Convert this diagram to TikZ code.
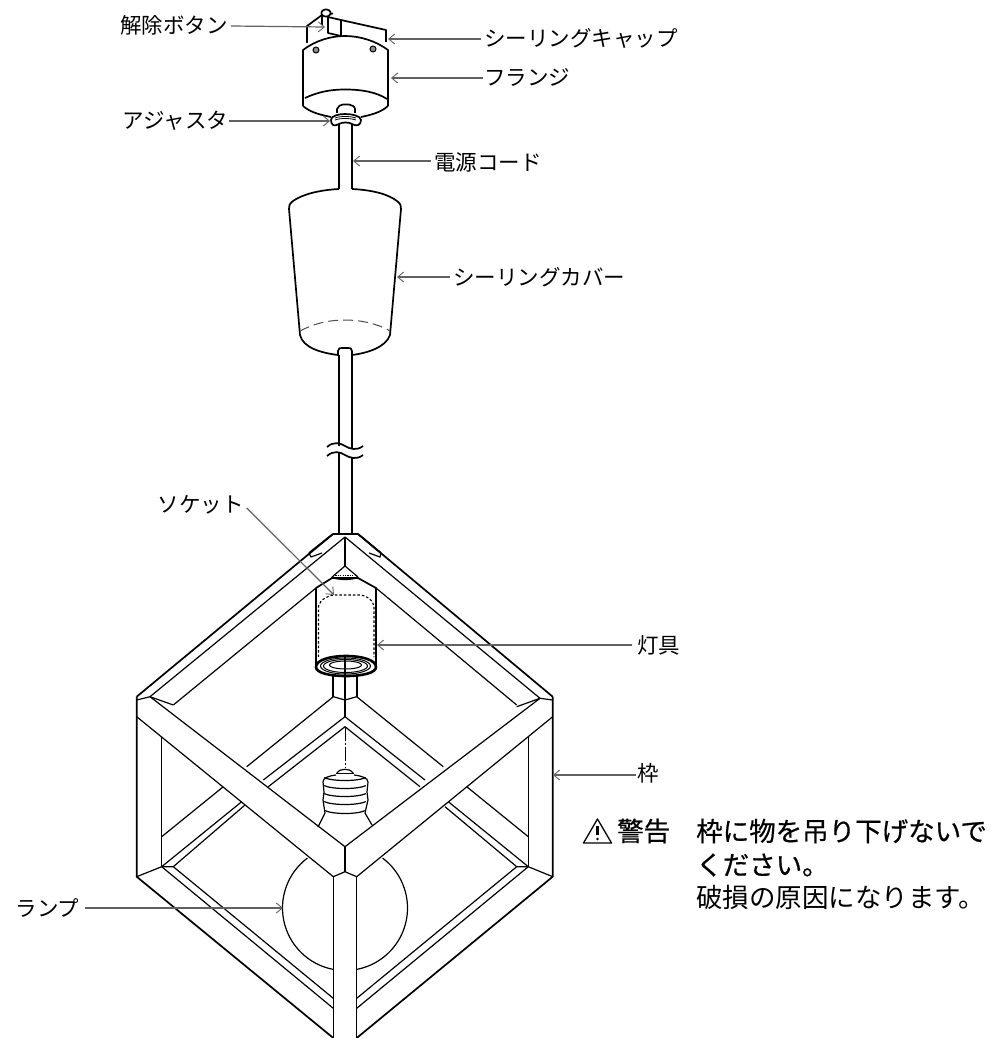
\documentclass[tikz,border=0pt]{standalone}
\usepackage{fontspec}
\usetikzlibrary{arrows.meta}
\setmainfont{Noto Sans CJK JP}
\newfontfamily\jpb[FakeBold=0.6]{Noto Sans CJK JP}
\tikzset{
 lbl/.style={inner sep=0pt,font=\fontsize{21.5}{21.5}\selectfont},
 lead/.style={draw=black!62,line width=1.2pt,-{Straight Barb[length=6pt,width=10pt,line width=0.9pt]}},
 ln/.style={line width=1.2pt,line join=round},
 hv/.style={line width=1.7pt,line join=round},
 warn/.style={inner sep=0pt,anchor=west,font=\fontsize{26.5}{26.5}\selectfont},
}
\newcommand{\earc}[6]{plot[smooth,domain=#5:#6,samples=32] ({#1+#3*cos(\x)},{#2+#4*sin(\x)})}
\begin{document}
\begin{tikzpicture}[x=1pt,y=-1pt]
\useasboundingbox (0,0) rectangle (995,1038);
\fill[white] (0,0) rectangle (995,1038);
% ---- ceiling cap
\begin{scope}[hv]
\draw (307,43) -- (307,26) -- (322,15);
\draw (328,17) -- (328,33) -- (341,36) -- (341,20) -- (328,17);
\draw (341,20) -- (386,30) -- (386,42);
\draw (322,15) -- (322,25) (324,15)--(333,13.5);
\draw[fill=white] \earc{326}{13}{4.5}{3.5}{0}{360};
% flange
\draw (303,106) -- (303,50) .. controls (315,41) and (330,36) .. (345,36) .. controls (360,36) and (376,41) .. (388,50) -- (388,106);
\draw (305,98) .. controls (318,92) and (330,89.5) .. (345,89.5) .. controls (362,89.5) and (376,92) .. (387,99);
\draw (303,106) .. controls (311,113) and (322,115) .. (331,117);
\draw (388,106) .. controls (380,113) and (370,115) .. (361,117);
\end{scope}
\draw[line width=1pt,fill=black!45] (316,50) circle[radius=3];
\draw[line width=1pt,fill=black!45] (373,49) circle[radius=3];
% adjuster
\draw[hv] (337,113) -- (337,109) .. controls (338,106) and (341,104.5) .. (343,104.5) -- (349,104.5) .. controls (352,104.5) and (355,107) .. (355,109) -- (355,113);
\draw[hv] (339,124) .. controls (334,127) and (331,125) .. (331,120) .. controls (331,116) and (338,114) .. (345,114) .. controls (352,114) and (361,116) .. (361,120) .. controls (361,125) and (357,127) .. (352,124);
\draw[hv] (339,124) .. controls (342,122) and (349,122) .. (352,124);
\draw[line width=0.8pt] (335,118) .. controls (340,116) and (350,116) .. (356,118);
\draw[line width=0.8pt] (335,120) .. controls (340,118) and (350,118) .. (356,120);
% cord top
\draw[hv] (339,124) -- (339,189) (352,124) -- (352,189);
% ---- cover
\draw[hv] (339,189) .. controls (320,190) and (303,194) .. (293,201) .. controls (289,204) and (289,206) .. (289,209) -- (300,335) .. controls (303,348) and (322,353) .. (338,355);
\draw[hv] (352,189) .. controls (372,190) and (388,194) .. (397,201) .. controls (401,204) and (401,206) .. (401,209) -- (390,335) .. controls (386,347) and (368,353) .. (352,355);
\draw[line width=1pt,dash pattern=on 10pt off 5pt,black!70] (300,331) .. controls (315,323) and (330,320) .. (345,320) .. controls (360,320) and (376,323) .. (390,331);
% lower cord
\draw[hv] (338,355) -- (338,351) .. controls (338,348) and (340,348) .. (342,348) -- (348,348) .. controls (350,348) and (352,348) .. (352,351) -- (352,355);
\draw[hv] (339,355) -- (339,446) (352,355) -- (352,448);
\draw[hv] (327,447) .. controls (334,441) and (340,443) .. (345,446) .. controls (350,449) and (357,451) .. (363,446);
\draw[hv] (327,456) .. controls (334,450) and (340,452) .. (345,455) .. controls (350,458) and (357,460) .. (363,455);
\draw[hv] (339,453) -- (339,534) (352,457) -- (352,534);
% ---- top joint
\draw[hv] (333,534) -- (358,534);
\draw[hv] (309,553) -- (333,534) (381,553) -- (358,534);
\draw[ln] (309,553) -- (311,557) -- (322,553);
\draw[ln] (381,553) -- (380,557) -- (369,553);
% ---- frame
\begin{scope}[hv]
\draw (136.7,696.7) -- (333,534);
\draw (552.7,696.7) -- (358,534);
\draw (136.7,696.7) -- (136.7,876.7) -- (333.3,1038);
\draw (552.7,696.7) -- (552.7,876.7) -- (356.7,1038);
\end{scope}
\begin{scope}[ln]
\draw (150,696.7) -- (345,537) -- (540,698.3);
\draw (345,537) -- (345,566);
\draw (173.3,705) -- (316,588);
\draw (516.7,705) -- (376,588);
% front bars
\draw (136.7,700) -- (150,696.7) -- (173.3,705);
\draw (552.7,700) -- (540,698.3) -- (516.7,706.7);
\draw (150,696.7) -- (345,846.7) -- (540,698.3);
\draw (136.7,716.7) -- (333.3,876.7) -- (345,871.7) -- (356.7,876.7) -- (552.7,716.7);
\draw (345,846.7) -- (345,871.7);
\draw (333.3,876.7) -- (333.3,1038);
\draw (356.7,876.7) -- (356.7,1038);
% back lower
\draw (246.7,766.7) -- (333.3,696.7) -- (345,700) -- (356.7,696.7) -- (443.3,766.7);
\draw (223.3,786.7) -- (161.7,836.7);
\draw (466.7,786.7) -- (528.3,836.7);
\draw (263.3,780) -- (345,716.7) -- (425,780);
\draw (268.3,786.7) -- (345,726.7) -- (420,786.7);
\draw (241.7,801.7) -- (161.7,866.7);
\draw (245,805) -- (173.3,866.7);
\draw (448.3,801.7) -- (528.3,866.7);
\draw (445,806.7) -- (516.7,866.7);
\draw (161.7,736.7) -- (161.7,866.7);
\draw (528.3,736.7) -- (528.3,866.7);
\draw (136.7,876.7) -- (161.7,866.7) -- (173.3,866.7) -- (333.3,998.3);
\draw (161.7,866.7) -- (333.3,1008.3);
\draw (552.7,876.7) -- (528.3,866.7) -- (516.7,866.7) -- (356.7,998.3);
\draw (528.3,866.7) -- (356.7,1008.3);
\end{scope}
% ---- socket
\draw[hv,fill=white] (316,668) -- (316,588) -- (332,578) -- (358,578) -- (376,588) -- (376,668);
\draw[ln] (332,577) -- (345,566) -- (358,577);
\draw[hv] (332,577) .. controls (338,580) and (352,580) .. (358,577);
\draw[line width=1pt,dash pattern=on 1.2pt off 1.2pt] (333,575) -- (357,575);
\draw[line width=1.1pt,dash pattern=on 2.5pt off 2pt] (318.5,657) -- (318.5,606) .. controls (320,600) and (328,595) .. (335,595) -- (360,595) .. controls (366,595) and (373,600) .. (374,606) -- (374,657);
\draw[line width=2.6pt,fill=white] (316,667) .. controls (316,660) and (330,656) .. (346,656) .. controls (362,656) and (376,660) .. (376,667) .. controls (376,673) and (362,676) .. (346,676) .. controls (330,676) and (316,673) .. (316,667) -- cycle;
\draw[line width=1pt] \earc{345.5}{666}{25}{8}{0}{360};
\draw[line width=1pt] \earc{345.5}{666}{22}{6.5}{0}{360};
\draw[line width=1pt] \earc{345.5}{665}{16}{4}{0}{360};
\draw[ln] (345,656) -- (345,716.7);
\draw[ln] (333,676) -- (333,696.7) (357,676) -- (357,696.7);
% dash-dot axis
\draw[line width=1pt,dash pattern=on 14pt off 2pt on 2pt off 2pt] (345,726.7) -- (345,767);
% ---- lamp
\begin{scope}[ln]
\draw (336.7,773.3) .. controls (339,770) and (342,769.3) .. (345,769.3) .. controls (348,769.3) and (351,770) .. (353.3,773.3);
\draw (336,773.5) -- (354,773.5);
\draw (336,775) .. controls (328,776) and (323,778) .. (323,782) -- (324,792) -- (323,800) -- (325,813) -- (318,827);
\draw (354,775) .. controls (362,776) and (368,778) .. (368,782) -- (367,792) -- (368,800) -- (365,813) -- (372,825);
\draw \earc{345}{776}{22}{4.5}{20}{160};
\draw \earc{345}{784}{22}{4.5}{20}{160};
\draw \earc{345}{792}{22}{4.5}{20}{160};
\draw \earc{345}{800}{22}{4.5}{20}{160};
\draw \earc{345}{809}{21}{4.5}{20}{160};
\draw \earc{345}{908}{62.5}{62.5}{101}{233};
\draw \earc{345}{908}{62.5}{62.5}{-53}{79};
\end{scope}
% ---- labels
\node[lbl] (kaijo) at (174,25) {解除ボタン};
\node[lbl] (cap) at (581,38) {シーリングキャップ};
\node[lbl] (flange) at (527,77) {フランジ};
\node[lbl] (adj) at (175.5,121) {アジャスタ};
\node[lbl] (cord) at (488,162) {電源コード};
\node[lbl] (cover) at (539,277) {シーリングカバー};
\node[lbl] (sock) at (200.5,505) {ソケット};
\node[lbl] (fix) at (658.5,645) {灯具};
\node[lbl] (waku) at (648.5,773) {枠};
\node[lbl] (lamp) at (47.5,908) {ランプ};
\coordinate (tkaijo) at (325,27);
\coordinate (tcap) at (388,39);
\coordinate (tflange) at (391,78);
\coordinate (tadj) at (330,121);
\coordinate (tcord) at (353,161);
\coordinate (tcover) at (397,277);
\coordinate (tsock) at (334,595);
\coordinate (tfix) at (377,645);
\coordinate (twaku) at (553,775);
\coordinate (tlamp) at (283,908);
\draw[lead] (kaijo.east) ++(3,1) -- (tkaijo);
\draw[lead] (cap.west) ++(-3,1) -- (tcap);
\draw[lead] (flange.west) ++(-1,1) -- (tflange);
\draw[lead] (adj.east) ++(1,0) -- (tadj);
\draw[lead] (cord.west) ++(-3,-1) -- (tcord);
\draw[lead] (cover.west) ++(-3,0) -- (tcover);
\draw[lead] (sock.east) ++(3,3) -- (tsock);
\draw[lead] (fix.west) ++(-5,0) -- (tfix);
\draw[lead] (waku.west) ++(-2,2) -- (twaku);
\draw[lead] (lamp.east) ++(5,0) -- (tlamp);
% ---- warning
\node[inner sep=0pt] (tri) at (597.5,831) {\tikz[x=1pt,y=-1pt]{\draw[line width=1.3pt,line join=round] (0,24)--(14,0)--(28,24)--cycle; \draw[line width=2.2pt] (14,7)--(14,16); \fill (14,20) circle[radius=1.4];}};
\node[warn] (wlabel) at (617,831) {\jpb 警告};
\node[warn] (w1) at (696,831) {\jpb 枠に物を吊り下げないで};
\node[warn] (w2) at (696,865) {\jpb ください。};
\node[warn] (w3) at (696,897) {破損の原因になります。};
\end{tikzpicture}
\end{document}
